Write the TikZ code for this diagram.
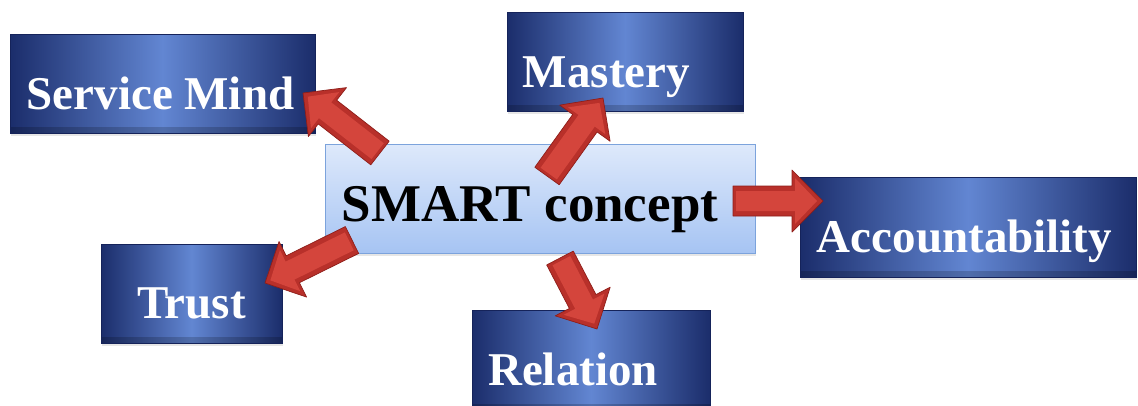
\documentclass[tikz,border=0pt]{standalone}
\usepackage{fontspec}
\setmainfont{Liberation Serif}
\usetikzlibrary{calc,shadows}
\definecolor{navyedge}{HTML}{1B2D6B}
\definecolor{navymid}{HTML}{6286D2}
\definecolor{navyline}{HTML}{15235A}
\definecolor{smarttop}{HTML}{DEE9FB}
\definecolor{smartbot}{HTML}{A6C4F3}
\definecolor{smartline}{HTML}{7CA3DC}
\definecolor{arrowred}{HTML}{B8302A}
\definecolor{arrowdark}{HTML}{8E1E19}
\definecolor{arrowface}{HTML}{D4453C}
\tikzset{
  bluebox/.style={rectangle, draw=navyline, line width=0.8pt,
    left color=navyedge, right color=navyedge, middle color=navymid,
    inner sep=0pt,
    drop shadow={opacity=0.2, shadow xshift=1pt, shadow yshift=-2.5pt},
    path picture={
      \fill[black, opacity=0.18] (path picture bounding box.south west) rectangle ([yshift=6pt]path picture bounding box.south east);
      \draw[white, opacity=0.35, line width=2pt] (path picture bounding box.north west) -- (path picture bounding box.north east);
    }},
  smartbox/.style={rectangle, draw=smartline, line width=0.8pt,
    top color=smarttop, bottom color=smartbot, inner sep=0pt,
    drop shadow={opacity=0.2, shadow xshift=1pt, shadow yshift=-2.5pt}},
  whitelabel/.style={text=white, font=\fontsize{47}{47}\selectfont\bfseries, inner sep=0pt, anchor=base},
  blacklabel/.style={text=black, font=\fontsize{53}{53}\selectfont\bfseries, inner sep=0pt, anchor=base},
  arrowrim/.style={fill=arrowred, draw=arrowdark, line width=0.7pt, line join=round},
  arrowtop/.style={fill=arrowface, line join=round},
}
% block arrow from #1 (tail) to #2 (tip)
\newcommand\blockarrowpath[2]{%
  \coordinate (#1-h) at ($(#2)!31pt!(#1)$);
  \draw[arrowrim] ($(#1)!15pt!90:(#2)$) -- ($(#1-h)!15pt!90:(#2)$) -- ($(#1-h)!31pt!90:(#2)$) -- (#2)
    -- ($(#1-h)!31pt!-90:(#2)$) -- ($(#1-h)!15pt!-90:(#2)$) -- ($(#1)!15pt!-90:(#2)$) -- cycle;
  \coordinate (#1-i) at ($(#1)!3pt!(#2)$);
  \coordinate (#1-t) at ($(#2)!6pt!(#1)$);
  \coordinate (#1-g) at ($(#2)!28pt!(#1)$);
  \fill[arrowtop] ($(#1-i)!10pt!90:(#2)$) -- ($(#1-g)!10pt!90:(#2)$) -- ($(#1-g)!23pt!90:(#2)$) -- (#1-t)
    -- ($(#1-g)!23pt!-90:(#2)$) -- ($(#1-g)!10pt!-90:(#2)$) -- ($(#1-i)!10pt!-90:(#2)$) -- cycle;
}
\begin{document}
\begin{tikzpicture}[x=1pt, y=-1pt]
\useasboundingbox (0,0) rectangle (1138,405);
\clip (0,0) rectangle (1138,405);

% boxes
\node[bluebox, minimum width=305pt, minimum height=99pt] (service) at (162.5,83.5) {};
\node[bluebox, minimum width=236pt, minimum height=99pt] (mastery) at (625,61.5) {};
\node[bluebox, minimum width=336pt, minimum height=100pt] (account) at (968,227) {};
\node[bluebox, minimum width=181pt, minimum height=99pt] (trust) at (191.5,293.5) {};
\node[bluebox, minimum width=238pt, minimum height=100pt] (relation) at (591,360) {};
\node[smartbox, minimum width=430pt, minimum height=109pt] (smart) at (540,198.5) {};

% labels
\node[whitelabel] (serviceT) at (160.5,109) {Service Mind};
\node[whitelabel] (masteryT) at (606.5,87) {Mastery};
\node[whitelabel] (accountT) at (964.5,252) {Accountability};
\node[whitelabel] (trustT) at (191.5,318) {Trust};
\node[whitelabel] (relationT) at (573,385) {Relation};
\node[blacklabel] (smartT) at (530,221) {SMART concept};

% arrow ends
\coordinate (a1) at (380,153);  \coordinate (b1) at (303,93);
\coordinate (a2) at (547,176);  \coordinate (b2) at (603,98);
\coordinate (a3) at (733,201);  \coordinate (b3) at (823,201);
\coordinate (a4) at (352,240);  \coordinate (b4) at (265,283);
\coordinate (a5) at (560,258);  \coordinate (b5) at (597,329);

\blockarrowpath{a1}{b1}
\blockarrowpath{a2}{b2}
\blockarrowpath{a3}{b3}
\blockarrowpath{a4}{b4}
\blockarrowpath{a5}{b5}
\end{tikzpicture}
\end{document}
